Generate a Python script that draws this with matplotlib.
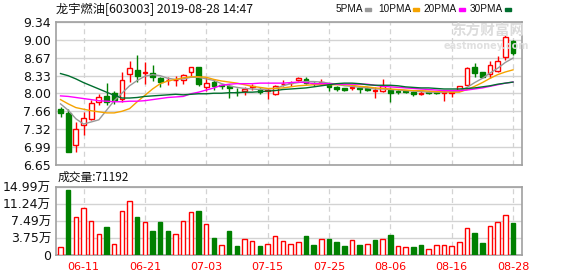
import matplotlib
matplotlib.use("Agg")
import matplotlib.pyplot as plt
import numpy as np

# ---------------- data ----------------
dates = ["06-05", "06-06", "06-10", "06-11", "06-12", "06-13", "06-14", "06-17", "06-18", "06-19",
         "06-20", "06-21", "06-24", "06-25", "06-26", "06-27", "06-28",
         "07-01", "07-02", "07-03", "07-04", "07-05", "07-08", "07-09", "07-10", "07-11", "07-12",
         "07-15", "07-16", "07-17", "07-18", "07-19", "07-22", "07-23", "07-24", "07-25", "07-26",
         "07-29", "07-30", "07-31",
         "08-01", "08-02", "08-05", "08-06", "08-07", "08-08", "08-09", "08-12", "08-13", "08-14",
         "08-15", "08-16", "08-19", "08-20", "08-21", "08-22", "08-23", "08-26", "08-27", "08-28"]

opens = [7.70, 7.62, 7.03, 7.40, 7.51, 7.84, 7.95, 8.00, 7.885, 8.36,
         8.43, 8.39, 8.39, 8.28, 8.24, 8.24, 8.256, 8.392, 8.496, 8.114,
         8.219, 8.164, 8.145, 8.03, 8.047, 8.108, 8.084, 8.05, 7.99, 8.17,
         8.19, 8.25, 8.274, 8.196, 8.176, 8.176, 8.114, 8.096, 8.09, 8.10,
         8.096, 8.04, 8.05, 8.07, 8.05, 8.05, 8.03, 7.99, 8.03, 8.03,
         8.00, 8.00, 8.069, 8.154, 8.49, 8.40, 8.357, 8.418, 8.675, 8.98]
highs = [7.74, 7.70, 7.45, 7.64, 7.87, 7.98, 8.20, 8.05, 8.40, 8.60,
         8.72, 8.58, 8.54, 8.31, 8.31, 8.33, 8.36, 8.50, 8.50, 8.30,
         8.268, 8.176, 8.176, 8.10, 8.114, 8.176, 8.10, 8.10, 8.157, 8.25,
         8.237, 8.31, 8.31, 8.207, 8.268, 8.194, 8.13, 8.10, 8.145, 8.127,
         8.114, 8.114, 8.27, 8.11, 8.08, 8.07, 8.05, 8.06, 8.04, 8.05,
         8.03, 8.04, 8.136, 8.49, 8.56, 8.40, 8.614, 8.706, 9.104, 9.00]
lows = [7.56, 6.89, 6.90, 7.22, 7.49, 7.77, 7.77, 7.80, 7.84, 8.22,
        8.22, 8.17, 8.23, 8.11, 8.16, 8.145, 8.176, 8.31, 8.145, 8.04,
        8.065, 8.084, 7.91, 7.94, 7.96, 8.065, 7.99, 7.90, 7.973, 8.127,
        8.145, 8.225, 8.176, 8.145, 8.157, 8.04, 8.04, 8.04, 8.065, 8.004,
        8.04, 7.91, 8.02, 7.84, 7.99, 8.00, 7.95, 7.97, 7.99, 7.98,
        7.86, 7.93, 8.05, 8.154, 8.31, 8.283, 8.295, 8.40, 8.632, 8.71]
closes = [7.62, 6.90, 7.32, 7.54, 7.82, 7.93, 7.84, 7.88, 8.25, 8.47,
          8.33, 8.40, 8.30, 8.22, 8.25, 8.255, 8.342, 8.496, 8.176, 8.20,
          8.133, 8.133, 8.10, 8.018, 8.071, 8.127, 8.022, 8.06, 8.14, 8.18,
          8.20, 8.293, 8.20, 8.185, 8.207, 8.114, 8.071, 8.06, 8.114, 8.08,
          8.065, 8.065, 8.13, 8.00, 8.015, 8.02, 7.99, 8.00, 8.01, 8.00,
          8.025, 8.03, 8.136, 8.467, 8.387, 8.314, 8.54, 8.614, 9.06, 8.755]

ma5 = [7.80, 7.68, 7.52, 7.42, 7.46, 7.50, 7.68, 7.86, 8.00, 8.14,
       8.24, 8.32, 8.35, 8.33, 8.28, 8.26, 8.27, 8.30, 8.30, 8.27,
       8.24, 8.18, 8.14, 8.11, 8.09, 8.08, 8.07, 8.08, 8.09, 8.14,
       8.18, 8.20, 8.22, 8.22, 8.21, 8.19, 8.17, 8.14, 8.13, 8.11,
       8.10, 8.08, 8.08, 8.07, 8.06, 8.05, 8.04, 8.03, 8.02, 8.02,
       8.02, 8.03, 8.04, 8.11, 8.20, 8.28, 8.38, 8.47, 8.58, 8.66]
ma10 = [7.88, 7.80, 7.73, 7.70, 7.67, 7.65, 7.63, 7.63, 7.66, 7.71,
        7.84, 7.96, 8.08, 8.18, 8.23, 8.26, 8.29, 8.31, 8.31, 8.30,
        8.26, 8.23, 8.21, 8.19, 8.16, 8.13, 8.11, 8.09, 8.09, 8.10,
        8.12, 8.14, 8.15, 8.16, 8.16, 8.16, 8.16, 8.16, 8.15, 8.13,
        8.12, 8.10, 8.09, 8.08, 8.07, 8.06, 8.05, 8.05, 8.04, 8.03,
        8.03, 8.02, 8.02, 8.07, 8.13, 8.20, 8.28, 8.35, 8.40, 8.44]
ma20 = [7.95, 7.94, 7.92, 7.90, 7.88, 7.86, 7.85, 7.84, 7.84, 7.85,
        7.85, 7.86, 7.88, 7.90, 7.92, 7.93, 7.94, 7.99, 8.02, 8.06,
        8.10, 8.15, 8.17, 8.18, 8.18, 8.18, 8.19, 8.19, 8.19, 8.19,
        8.20, 8.21, 8.20, 8.18, 8.18, 8.18, 8.17, 8.17, 8.17, 8.17,
        8.17, 8.15, 8.13, 8.12, 8.11, 8.10, 8.09, 8.08, 8.07, 8.06,
        8.05, 8.05, 8.05, 8.06, 8.08, 8.10, 8.13, 8.16, 8.19, 8.21]
ma30 = [8.37, 8.33, 8.27, 8.20, 8.14, 8.08, 8.02, 7.96, 7.91, 7.91,
        7.92, 7.94, 7.95, 7.96, 7.97, 7.98, 7.97, 7.98, 7.99, 7.99,
        8.00, 8.00, 8.01, 8.01, 8.02, 8.02, 8.03, 8.04, 8.05, 8.07,
        8.08, 8.09, 8.10, 8.12, 8.14, 8.16, 8.18, 8.19, 8.19, 8.18,
        8.16, 8.15, 8.15, 8.15, 8.14, 8.12, 8.11, 8.10, 8.10, 8.09,
        8.08, 8.08, 8.08, 8.09, 8.10, 8.12, 8.14, 8.17, 8.19, 8.21]

# volume in 万 shares, and whether the day closed up (red) or down (green)
volume = [1.84, 14.3, 8.45, 10.4, 7.6, 4.7, 6.25, 2.5, 9.8, 12.0,
          8.45, 7.35, 5.3, 7.2, 5.3, 4.7, 7.4, 9.45, 9.7, 6.78,
          3.75, 2.24, 5.27, 2.0, 3.46, 3.03, 2.0, 2.45, 4.1, 3.03,
          2.45, 2.8, 4.2, 2.24, 3.46, 3.53, 2.9, 2.0, 3.25, 2.3,
          2.45, 3.3, 3.45, 4.35, 1.95, 1.66, 1.66, 2.1, 1.23, 2.3,
          2.1, 1.88, 2.96, 6.0, 4.76, 2.6, 6.4, 7.3, 8.87, 7.12]
vol_up = [1, 0, 1, 1, 1, 1, 0, 1, 1, 1,
          0, 1, 0, 0, 0, 1, 1, 1, 0, 1,
          0, 1, 0, 0, 1, 1, 0, 1, 1, 1,
          1, 1, 0, 0, 1, 0, 0, 0, 1, 0,
          1, 0, 1, 0, 1, 1, 0, 0, 1, 1,
          1, 1, 1, 1, 0, 0, 1, 1, 1, 0]

tick_labels = ["06-11", "06-21", "07-03", "07-15", "07-25", "08-06", "08-16", "08-28"]
price_ticks = [6.65, 6.99, 7.32, 7.66, 8.00, 8.33, 8.67, 9.00, 9.34]
vol_ticks = [0, 3.75, 7.49, 11.24, 14.99]
vol_tick_labels = ["0", "3.75万", "7.49万", "11.24万", "14.99万"]
ma_names = ["5PMA", "10PMA", "20PMA", "30PMA"]
title = "龙宇燃油[603003] 2019-08-28 14:47"
vol_title = "成交量:71192"

# ---------------- style ----------------
RED = "#ff0000"
GREEN = "#008000"
MA_COLORS = ["#999999", "#f5a300", "#ff00ff", "#006e2e"]
FRAME = "#a0a0a0"
GRID = "#d3d3d3"

plt.rcParams["font.family"] = ["DejaVu Sans", "Noto Sans CJK SC"]

W, H = 578, 276
fig = plt.figure(figsize=(W / 100, H / 100), dpi=100)

def box(l, t, r, b):
    return [l / W, 1 - b / H, (r - l) / W, (b - t) / H]

ax = fig.add_axes(box(56, 22, 522, 165))
axv = fig.add_axes(box(56, 187, 522, 255))

x = np.arange(len(dates))
o = np.array(opens); c = np.array(closes)
hi = np.array(highs); lo = np.array(lows)
up = c >= o
xlim = (-0.59, len(dates) - 1 + 1.17)
tick_pos = [dates.index(t) for t in tick_labels]

for a in (ax, axv):
    a.set_xlim(*xlim)
    for s in a.spines.values():
        s.set_color(FRAME)
        s.set_linewidth(1.2)
    a.tick_params(length=0)
    a.set_xticks(tick_pos)
    for p in tick_pos:
        a.axvline(p, color=GRID, lw=0.9, ls=(0, (4, 3)), zorder=0)

# price panel
ax.set_ylim(price_ticks[0], price_ticks[-1])
ax.set_yticks(price_ticks)
ax.set_yticklabels([f"{v:.2f}" for v in price_ticks], fontsize=9, color="#111111")
ax.yaxis.grid(True, color=GRID, lw=1.0, zorder=0)
ax.set_xticklabels([])

cols = np.where(up, RED, GREEN)
ax.vlines(x, lo, hi, colors=cols, lw=1.0, zorder=2)
bh = np.maximum(np.abs(c - o), 0.006)
ax.bar(x, bh, bottom=np.minimum(o, c), width=0.62,
       color=np.where(up, "white", GREEN), edgecolor=cols, linewidth=1.0, zorder=3)

for vals, col in zip([ma5, ma10, ma20, ma30], MA_COLORS):
    ax.plot(x, vals, color=col, lw=1.0, zorder=4)

# volume panel
vu = np.array(vol_up).astype(bool)
axv.set_ylim(vol_ticks[0], vol_ticks[-1])
axv.set_yticks(vol_ticks)
axv.set_yticklabels(vol_tick_labels, fontsize=9, color="#111111")
axv.yaxis.grid(True, color=GRID, lw=1.0, zorder=0)
axv.bar(x, volume, width=0.58, color=np.where(vu, "white", GREEN),
        edgecolor=np.where(vu, RED, GREEN), linewidth=1.0, zorder=3)
axv.set_xticklabels(tick_labels, fontsize=8, color=RED)
axv.tick_params(axis="x", pad=5)

# texts
fig.text(56 / W, 1 - 9 / H, title, fontsize=8.8, va="center", ha="left",
         family=["Noto Sans CJK SC", "DejaVu Sans"], color="#111111")
fig.text(58 / W, 1 - 177 / H, vol_title, fontsize=8.5, va="center", ha="left",
         family=["Noto Sans CJK SC", "DejaVu Sans"], color="#111111")

sq_x = [365, 413, 459, 505]
for name, sx, col in zip(ma_names, sq_x, MA_COLORS):
    fig.text((sx - 2) / W, 1 - 9 / H, name, fontsize=7.2, va="center", ha="right",
             family=["Liberation Sans"], color="#111111")
    fig.patches.append(plt.Rectangle((sx / W, 1 - 11 / H), 6 / W, 3 / H,
                                     transform=fig.transFigure, color=col, figure=fig))

# watermark
fig.text(488 / W, 1 - 31 / H, "东方财富网", fontsize=10.5, fontweight="bold", va="center", ha="center",
         family=["Noto Sans CJK SC"], color="#dcdcdc", zorder=1)
fig.text(486 / W, 1 - 46 / H, "eastmoney.com", fontsize=7, fontweight="bold", va="center", ha="center",
         color="#e0e0e0", zorder=1)

fig.savefig("out.png", dpi=100)
